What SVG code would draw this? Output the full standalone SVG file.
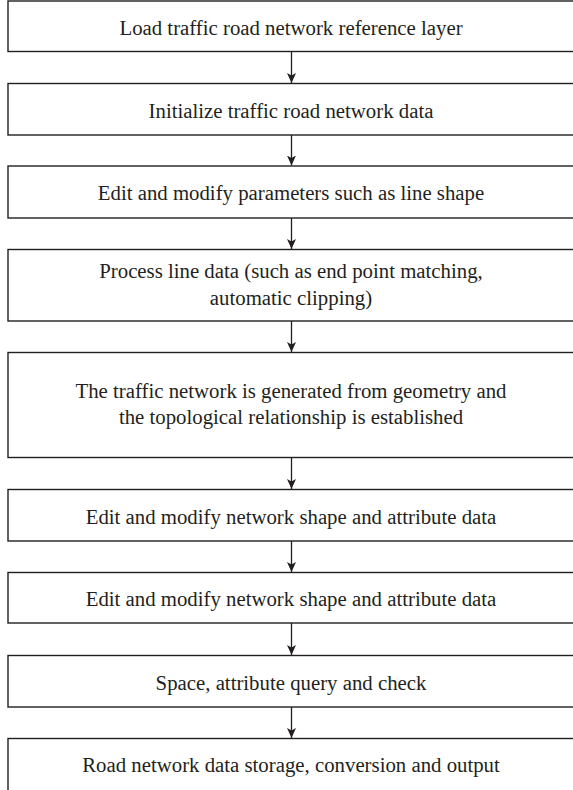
<svg xmlns="http://www.w3.org/2000/svg" width="573" height="790" viewBox="0 0 573 790">
<defs>
<style>
.box{fill:#fff;stroke:#231f20;stroke-width:1.4}
.t{font-family:"Liberation Serif","Times New Roman",serif;font-size:20.8px;fill:#231f20;text-anchor:middle}
.c{stroke:#231f20;stroke-width:1.3;fill:none}
</style>
<marker id="ah" viewBox="0 0 10 12" refX="10" refY="6" markerWidth="10" markerHeight="12" markerUnits="userSpaceOnUse" orient="auto">
<path d="M0,1.5 L10,6 L0,10.5 L2.5,6 Z" fill="#231f20"/>
</marker>
</defs>
<rect width="573" height="790" fill="#fff"/>
<g id="n1"><rect class="box" x="8" y="1" width="567" height="50.5"/><text class="t" x="291" y="34.5">Load traffic road network reference layer</text></g>
<g id="n2"><rect class="box" x="8" y="83.5" width="567" height="51.5"/><text class="t" x="291" y="117.5">Initialize traffic road network data</text></g>
<g id="n3"><rect class="box" x="8" y="166" width="567" height="52"/><text class="t" x="291" y="200">Edit and modify parameters such as line shape</text></g>
<g id="n4"><rect class="box" x="8" y="249.5" width="567" height="71.5"/><text class="t" x="291" y="277.5">Process line data (such as end point matching,</text><text class="t" x="291" y="305">automatic clipping)</text></g>
<g id="n5"><rect class="box" x="8" y="352.5" width="567" height="105"/><text class="t" x="291" y="398">The traffic network is generated from geometry and</text><text class="t" x="291" y="423.5">the topological relationship is established</text></g>
<g id="n6"><rect class="box" x="8" y="489.5" width="567" height="51.5"/><text class="t" x="291" y="523.5">Edit and modify network shape and attribute data</text></g>
<g id="n7"><rect class="box" x="8" y="572.5" width="567" height="50.5"/><text class="t" x="291" y="606">Edit and modify network shape and attribute data</text></g>
<g id="n8"><rect class="box" x="8" y="655.5" width="567" height="51.5"/><text class="t" x="291" y="689.5">Space, attribute query and check</text></g>
<g id="n9"><rect class="box" x="8" y="738.5" width="567" height="60"/><text class="t" x="291" y="772">Road network data storage, conversion and output</text></g>
<g id="connectors">
<line class="c" x1="291.5" y1="51.5" x2="291.5" y2="83" marker-end="url(#ah)"/>
<line class="c" x1="291.5" y1="135" x2="291.5" y2="165.5" marker-end="url(#ah)"/>
<line class="c" x1="291.5" y1="218" x2="291.5" y2="249" marker-end="url(#ah)"/>
<line class="c" x1="291.5" y1="321" x2="291.5" y2="352" marker-end="url(#ah)"/>
<line class="c" x1="291.5" y1="457.5" x2="291.5" y2="489" marker-end="url(#ah)"/>
<line class="c" x1="291.5" y1="541" x2="291.5" y2="572" marker-end="url(#ah)"/>
<line class="c" x1="291.5" y1="623" x2="291.5" y2="655" marker-end="url(#ah)"/>
<line class="c" x1="291.5" y1="707" x2="291.5" y2="738" marker-end="url(#ah)"/>
</g>
</svg>
